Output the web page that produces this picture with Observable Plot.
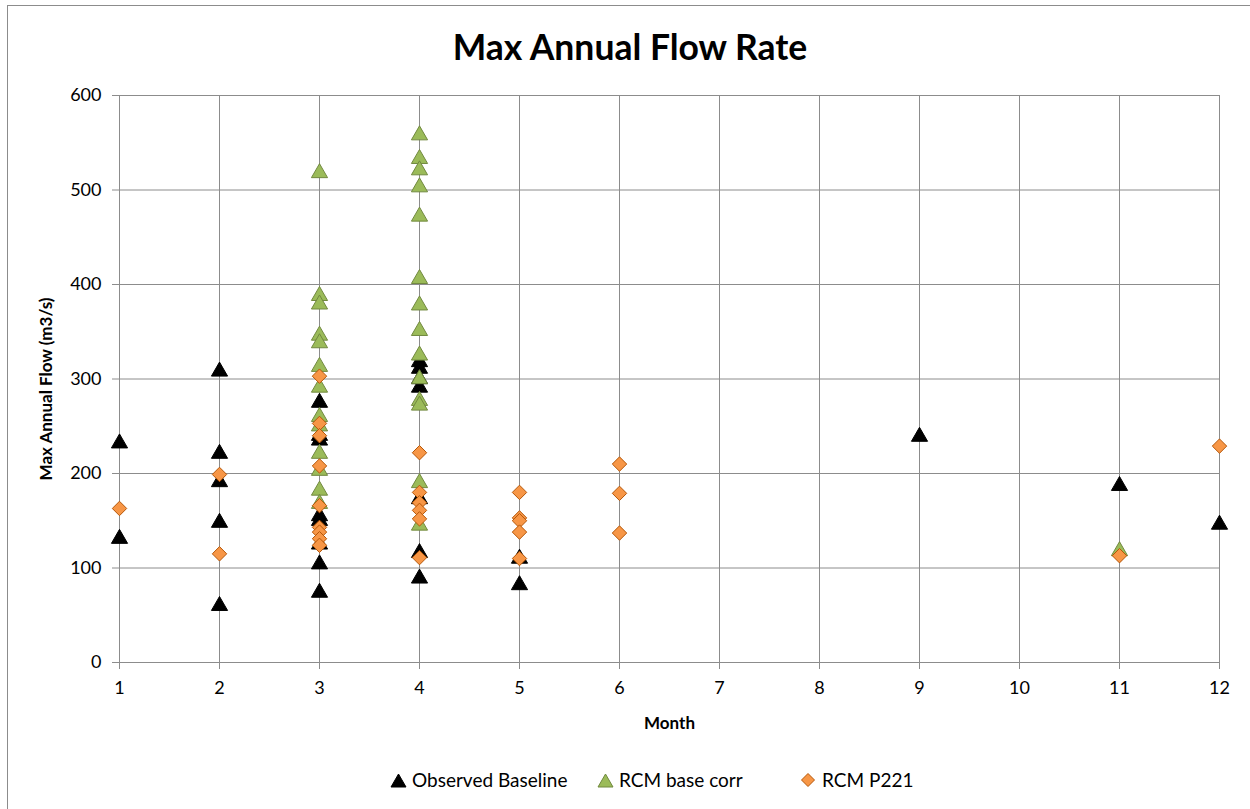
<!DOCTYPE html>
<html><head><meta charset="utf-8">
<script src="https://cdn.jsdelivr.net/npm/d3@7"></script>
<script src="https://cdn.jsdelivr.net/npm/@observablehq/plot@0.6"></script>
<style>
body{margin:0;background:#fff;font-family:Lato,"Open Sans",sans-serif;}
#wrap{position:relative;width:1250px;height:809px;overflow:hidden;background:#fff;}
#frame{position:absolute;left:7px;top:5px;width:1300px;height:900px;border:1px solid #8c8c8c;box-sizing:border-box;}
#title{position:absolute;left:0;top:0;width:1260px;height:80px;line-height:94px;text-align:center;font-weight:bold;font-size:35.5px;color:#000;}
#chart{position:absolute;left:0;top:80px;}
.leg{position:absolute;top:768px;font-size:19px;color:#000;display:flex;align-items:center;white-space:nowrap;}
.leg svg{margin-right:0px;}
</style>
</head><body>
<div id="wrap">
<div id="frame"></div>
<div id="title">Max Annual Flow Rate</div>
<div id="chart"></div>
<div class="leg" style="left:390px"><svg width="22" height="18"><path d="M8.5,3 L16,16 L1,16 Z" fill="#000" stroke="#000"/></svg>Observed Baseline</div>
<div class="leg" style="left:597px"><svg width="22" height="18"><path d="M8.5,3 L16,16 L1,16 Z" fill="#9bbb59" stroke="#71893f"/></svg>RCM base corr</div>
<div class="leg" style="left:800px"><svg width="22" height="18"><path d="M8,2.5 L14.5,9 L8,15.5 L1.5,9 Z" fill="#f79646" stroke="#b65708"/></svg>RCM P221</div>
</div>
<script>
// ---- data ----
const months = [1,2,3,4,5,6,7,8,9,10,11,12];
const yTicks = [0,100,200,300,400,500,600];

const obsMonth = [1,1, 2,2,2,2,2, 3,3,3,3,3,3,3,3, 4,4,4,4,4,4,4, 5,5, 9, 11, 12];
const obsFlow  = [232,131, 308,221,191,148,60, 275,240,235,155,150,125,104,74, 318,311,300,291,173,116,89, 110,82, 239, 187, 146];

const rcmMonth = [3,3,3,3,3,3,3,3,3,3,3,3,3, 4,4,4,4,4,4,4,4,4,4,4,4,4,4, 11];
const rcmFlow  = [518,388,379,346,338,313,291,260,250,221,203,182,168, 558,533,521,503,472,406,378,351,325,300,277,272,190,145, 118];

const p221Month = [1, 2,2, 3,3,3,3,3,3,3,3,3, 4,4,4,4,4,4, 5,5,5,5,5, 6,6,6, 11, 12];
const p221Flow  = [163, 199,115, 303,253,240,208,166,143,138,131,124, 222,180,169,161,152,111, 180,153,150,138,110, 210,179,137, 113, 229];

const zip = (ms, vs) => ms.map((m, i) => ({month: m, flow: vs[i]}));
const obs = zip(obsMonth, obsFlow);
const rcm = zip(rcmMonth, rcmFlow);
const p221 = zip(p221Month, p221Flow);

const grey = "#8c8c8c";
const chart = Plot.plot({
  width: 1250,
  height: 680,
  marginTop: 15,
  marginBottom: 98,
  marginLeft: 119,
  marginRight: 31,
  style: {fontFamily: "Lato, 'Open Sans', sans-serif", fontSize: "18px", color: "#000", background: "transparent"},
  x: {domain: [1, 12], ticks: months, tickFormat: d => String(d)},
  y: {domain: [0, 600], ticks: yTicks},
  marks: [
    Plot.gridX(months, {stroke: grey, strokeOpacity: 1, strokeWidth: 1}),
    Plot.gridY(yTicks, {stroke: grey, strokeOpacity: 1, strokeWidth: 1}),
    Plot.axisX({ticks: months, tickSize: 7, tickPadding: 12, stroke: grey, strokeOpacity: 1,
      label: "Month", labelAnchor: "center", labelArrow: "none", labelOffset: 66}),
    Plot.axisY({ticks: yTicks, tickSize: 7, tickPadding: 11, stroke: grey, strokeOpacity: 1,
      label: "Max Annual Flow (m3/s)", labelAnchor: "center", labelArrow: "none", labelOffset: 80}),
    Plot.dot(obs, {x: "month", y: "flow", symbol: "triangle", r: 6, fill: "#000", stroke: "#000", strokeWidth: 1}),
    Plot.dot(rcm, {x: "month", y: "flow", symbol: "triangle", r: 6, fill: "#9bbb59", stroke: "#71893f", strokeWidth: 1}),
    Plot.dot(p221, {x: "month", y: "flow", symbol: "diamond2", r: 6.5, fill: "#f79646", stroke: "#b65708", strokeWidth: 1})
  ]
});
document.getElementById("chart").appendChild(chart);
// bold axis titles
chart.querySelectorAll("[aria-label='x-axis label'] text, [aria-label='y-axis label'] text").forEach(t => {
  t.setAttribute("font-weight", "bold");
  t.style.fontSize = "17px";
});
const yl = chart.querySelector("[aria-label='y-axis label']");
if (yl) yl.setAttribute("transform", ((yl.getAttribute("transform") || "") + " translate(0,10)").trim());
</script>
</body></html>
